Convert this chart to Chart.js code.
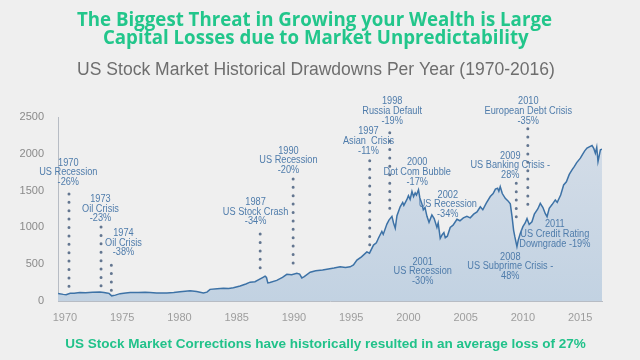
<!DOCTYPE html>
<html>
<head>
<meta charset="utf-8">
<script src="https://cdn.jsdelivr.net/npm/chart.js@4.4.1/dist/chart.umd.min.js"></script>
<style>
  html, body { margin: 0; padding: 0; background: #efefef; }
  #wrap { width: 640px; height: 360px; }
</style>
</head>
<body>
<div id="wrap"><canvas id="chart" width="640" height="360"></canvas></div>
<script>
// S&P 500 level per year
const years = [
  1969.4, 1969.85, 1970.1, 1970.45, 1970.8, 1971.3, 1971.8, 1972.4, 1973.06, 1973.4,
  1973.65, 1973.85, 1974.08, 1974.4, 1974.81, 1975.3, 1975.7, 1976.4, 1977.0, 1977.43,
  1978.0, 1978.9, 1979.5, 1980.05, 1980.5, 1980.93, 1981.5, 1982.09, 1982.4, 1982.67,
  1983.3, 1983.84, 1984.3, 1984.71, 1985.3, 1985.8, 1986.17, 1986.6, 1987.05, 1987.3,
  1987.48, 1987.6, 1987.72, 1987.9, 1988.5, 1989.0, 1989.38, 1989.8, 1990.25, 1990.5,
  1990.69, 1990.9, 1991.42, 1991.9, 1992.5, 1992.88, 1993.5, 1994.04, 1994.5, 1994.91,
  1995.2, 1995.5, 1995.9, 1996.37, 1996.6, 1996.95, 1997.2, 1997.4, 1997.68, 1997.8,
  1998.12, 1998.3, 1998.56, 1998.7, 1998.85, 1999.0, 1999.28, 1999.5, 1999.6, 1999.87,
  2000.0, 2000.15, 2000.31, 2000.45, 2000.59, 2000.7, 2000.88, 2001.0, 2001.18, 2001.3,
  2001.45, 2001.62, 2001.8, 2002.05, 2002.25, 2002.49, 2002.6, 2002.78, 2002.95, 2003.1,
  2003.22, 2003.4, 2003.65, 2003.9, 2004.24, 2004.5, 2004.8, 2005.11, 2005.4, 2005.7,
  2005.99, 2006.28, 2006.5, 2006.8, 2007.15, 2007.4, 2007.6, 2007.79, 2007.9, 2008.02,
  2008.2, 2008.46, 2008.7, 2008.9, 2009.05, 2009.19, 2009.3, 2009.48, 2009.6, 2009.77,
  2010.0, 2010.2, 2010.36, 2010.55, 2010.79, 2011.0, 2011.3, 2011.52, 2011.75, 2011.95,
  2012.11, 2012.3, 2012.55, 2012.83, 2013.0, 2013.3, 2013.56, 2013.8, 2014.05, 2014.29,
  2014.5, 2014.7, 2015.02, 2015.2, 2015.4, 2015.6, 2015.8, 2016.04, 2016.2, 2016.33,
  2016.45, 2016.56, 2016.7, 2016.77, 2016.91
];
const values = [
  101, 90, 86, 106, 104, 114, 112, 118, 123, 116,
  109, 104, 70, 80, 100, 108, 114, 116, 118, 114,
  110, 108, 114, 126, 134, 138, 128, 108, 120, 158,
  168, 172, 170, 180, 205, 232, 256, 262, 300, 322,
  337, 320, 246, 252, 280, 322, 362, 356, 376, 365,
  314, 332, 392, 410, 420, 430, 448, 466, 455, 464,
  490, 555, 600, 668, 650, 760, 790, 860, 945, 905,
  1045, 1100, 1150, 1060, 990, 1160, 1280, 1340, 1300, 1380,
  1430, 1380, 1490, 1420, 1470, 1440, 1510, 1400, 1320, 1240,
  1270, 1150, 1070, 1170, 1120, 1000, 1060, 850, 900, 930,
  860, 880, 1000, 1030, 1110, 1090, 1130, 1150, 1130, 1180,
  1210, 1280, 1240, 1330, 1420, 1460, 1520, 1532, 1490, 1554,
  1460, 1395, 1360, 1320, 1150, 960, 870, 740, 830, 918,
  1010, 1060, 1120, 1040, 1077, 1180, 1250, 1327, 1270, 1190,
  1145, 1260, 1310, 1373, 1340, 1440, 1577, 1620, 1720, 1782,
  1830, 1880, 1941, 1990, 2040, 2077, 2095, 2113, 2070, 2009,
  2090, 1895, 2000, 2054, 2064
];

const xTicks = [1970, 1975, 1980, 1985, 1990, 1995, 2000, 2005, 2010, 2015];
const yTicks = [0, 500, 1000, 1500, 2000, 2500];

// event labels: centre year, level of the first text line, text lines
const annYears = [1970.29, 1973.10, 1975.11, 1986.65, 1989.52, 1996.51, 1998.58,
                  2000.77, 2003.44, 2001.25, 2010.47, 2008.90, 2008.90, 2012.79];
const annValues = [1877, 1386, 923, 1345, 2041, 2300, 2709,
                   1881, 1441, 532, 2709, 1972, 600, 1041];
const annLabels = [
  ["1970", "US Recession", "-26%"],
  ["1973", "Oil Crisis", "-23%"],
  ["1974", "Oil Crisis", "-38%"],
  ["1987", "US Stock Crash", "-34%"],
  ["1990", "US Recession", "-20%"],
  ["1997", "Asian  Crisis", "-11%"],
  ["1998", "Russia Default", "-19%"],
  ["2000", "Dot Com Bubble", "-17%"],
  ["2002", "US Recession", "-34%"],
  ["2001", "US Recession", "-30%"],
  ["2010", "European Debt Crisis", "-35%"],
  ["2009", "US Banking Crisis -", "28%"],
  ["2008", "US Subprime Crisis -", "48%"],
  ["2011", "US Credit Rating", "Downgrade -19%"]
];

// dotted leaders: year, top level, bottom level
const dotYears = [1970.35, 1973.15, 1974.05, 1987.05, 1989.93, 1996.62, 1998.37, 2001.23, 2010.43, 2009.42];
const dotTops = [1455, 1005, 487, 909, 1659, 1904, 2286, 919, 2341, 1600];
const dotBottoms = [187, 200, 132, 432, 405, 732, 1236, 691, 1209, 1100];

const titleLines = [
  "The Biggest Threat in Growing your Wealth is Large",
  "Capital Losses due to Market Unpredictability"
];
const subtitle = "US Stock Market Historical Drawdowns Per Year (1970-2016)";
const footnote = "US Stock Market Corrections have historically resulted in an average loss of 27%";

const NARROW = '"Liberation Sans Narrow", "Arial Narrow", "Liberation Sans", sans-serif';
const SANS = '"Liberation Sans", Arial, sans-serif';

function fitFont(g, text, weight, family, width) {
  g.font = weight + " 20px " + family;
  const size = 20 * width / g.measureText(text).width;
  g.font = weight + " " + size.toFixed(2) + "px " + family;
}

function squeezed(g, text, x, y, sx) {
  g.save();
  g.translate(x, y);
  g.scale(sx, 1);
  g.fillText(text, 0, 0);
  g.restore();
}

const textPlugin = {
  id: "texts",
  beforeDraw(chart) {
    const g = chart.ctx;
    g.save();
    g.fillStyle = "#efefef";
    g.fillRect(0, 0, chart.width, chart.height);
    g.restore();
  },
  afterDraw(chart) {
    const g = chart.ctx;
    const xs = chart.scales.x, ys = chart.scales.y;
    g.save();

    // event labels
    g.textAlign = "center";
    g.textBaseline = "middle";
    g.fillStyle = "#4f7cab";
    g.font = "10px " + SANS;
    annLabels.forEach((lines, i) => {
      const cx = xs.getPixelForValue(annYears[i]);
      const cy = ys.getPixelForValue(annValues[i]);
      lines.forEach((t, j) => squeezed(g, t, cx, cy + j * 9.8, 0.92));
    });

    // headings
    g.textBaseline = "alphabetic";
    g.fillStyle = "#22c68b";
    fitFont(g, titleLines[0], "700", '"Open Sans", sans-serif', 475);
    g.fillText(titleLines[0], 314.5, 26);
    g.fillText(titleLines[1], 315.8, 43.5);

    g.fillStyle = "#6e6e6e";
    fitFont(g, subtitle, "400", SANS, 478);
    g.fillText(subtitle, 316, 75);

    g.fillStyle = "#21c28a";
    fitFont(g, footnote, "700", SANS, 521);
    g.fillText(footnote, 325.5, 348);

    g.restore();
  }
};

const datasets = [{
  data: years.map((x, i) => ({ x: x, y: values[i] })),
  borderColor: "#3d72a6",
  borderWidth: 1.5,
  fill: "origin",
  backgroundColor: ctx => {
    const a = ctx.chart.chartArea;
    if (!a) return "#c9d5e2";
    const gr = ctx.chart.ctx.createLinearGradient(0, a.top, 0, a.bottom);
    gr.addColorStop(0, "#d6dee8");
    gr.addColorStop(1, "#c2d2e2");
    return gr;
  }
}];

dotYears.forEach((yr, i) => {
  datasets.push({
    data: [{ x: yr, y: dotTops[i] }, { x: yr, y: dotBottoms[i] }],
    borderColor: "#637690",
    borderWidth: 3,
    borderDash: [0, 8.4],
    borderCapStyle: "round",
    fill: false
  });
});

new Chart(document.getElementById("chart"), {
  type: "line",
  data: { datasets: datasets },
  plugins: [textPlugin],
  options: {
    responsive: false,
    animation: false,
    devicePixelRatio: 1,
    layout: { padding: { top: 117, right: 38, bottom: 33, left: 0 } },
    plugins: {
      legend: { display: false },
      tooltip: { enabled: false }
    },
    elements: { point: { radius: 0 }, line: { tension: 0 } },
    scales: {
      x: {
        type: "linear",
        min: 1969.39,
        max: 2016.91,
        afterBuildTicks: s => { s.ticks = xTicks.map(v => ({ value: v })); },
        afterFit: s => { s.height = 26; },
        grid: { display: false },
        border: { display: true, dash: [3, 3], color: "#b7bcc4" },
        ticks: {
          autoSkip: false,
          maxRotation: 0,
          padding: 2,
          color: "#9d9d9d",
          font: { family: NARROW, size: 11 },
          callback: v => String(v)
        }
      },
      y: {
        min: 0,
        max: 2500,
        afterBuildTicks: s => { s.ticks = yTicks.map(v => ({ value: v })); },
        afterFit: s => { s.width = 58; },
        grid: { display: false },
        border: { display: true, dash: [3, 3], color: "#b7bcc4" },
        ticks: {
          padding: 6,
          color: "#8a8a8a",
          font: { family: NARROW, size: 11 },
          callback: v => String(v)
        }
      }
    }
  }
});
</script>
</body>
</html>
